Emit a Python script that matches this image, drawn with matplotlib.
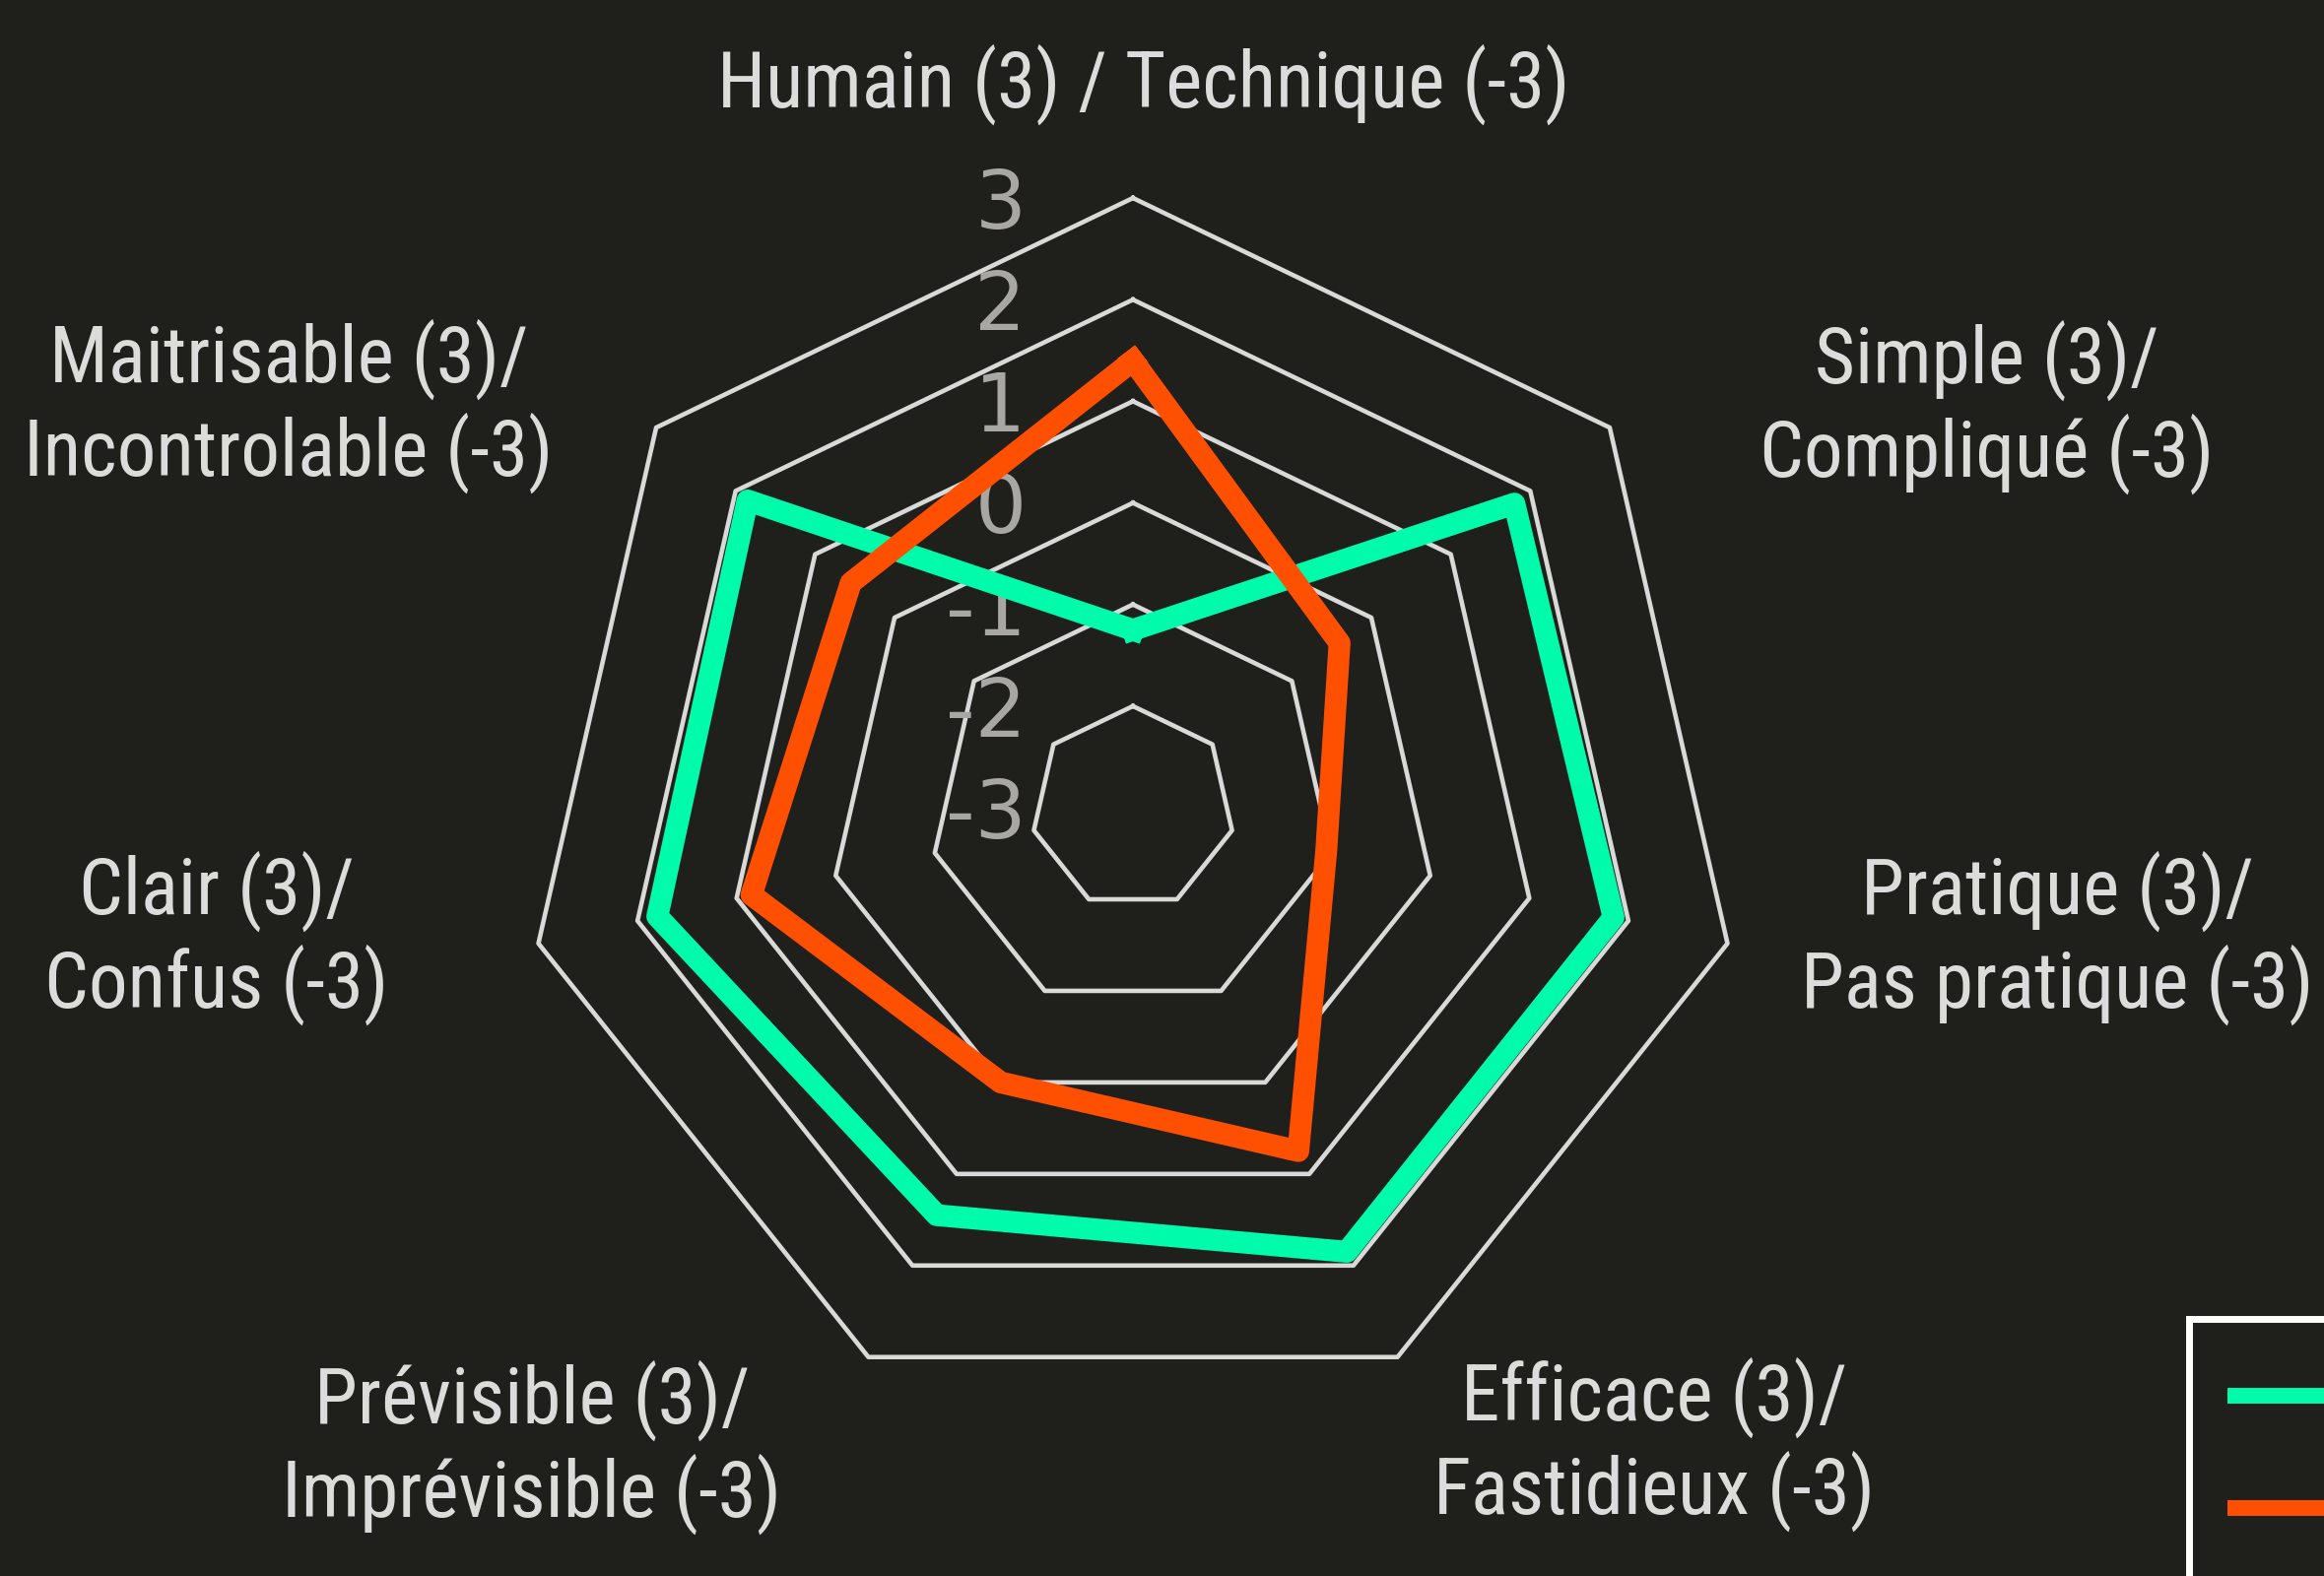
import numpy as np
import matplotlib
matplotlib.use('Agg')
import matplotlib.pyplot as plt

# axes, clockwise from the top
categories = [
    'Humain (3) / Technique (-3)',
    'Simple (3)/\nCompliqué (-3)',
    'Pratique (3)/\nPas pratique (-3)',
    'Efficace (3)/\nFastidieux (-3)',
    'Prévisible (3)/\nImprévisible (-3)',
    'Clair (3)/\nConfus (-3)',
    'Maitrisable (3)/\nIncontrolable (-3)',
]
green_values = [-1.25, 1.8, 1.85, 1.85, 1.45, 1.8, 1.85]
red_values = [1.4, -0.4, -1.05, 0.75, 0.0, 0.85, 0.55]
series_names = ['Série 1', 'Série 2']
r_ticks = [3, 2, 1, 0, -1, -2, -3]
grid_levels = [-2, -1, 0, 1, 2, 3]

# where the category labels sit (figure pixels, centre of the text)
label_pos = [(1161, 86), (2017, 413), (2088, 952), (1679, 1466),
             (540, 1469), (220, 952), (293, 412)]

bg = '#1f1f1b'
green = '#00fbab'
red = '#ff4f00'
grid_col = '#d9d9d9'
text_col = '#dcdcdc'
label_font = ['Roboto Condensed', 'Liberation Sans Narrow', 'Roboto', 'DejaVu Sans']

W, H = 2359, 1600
fig = plt.figure(figsize=(W / 100, H / 100), dpi=100, facecolor=bg)
ax = fig.add_axes([0.2251, 0.1006, 0.5248, 0.77375], projection='polar')
ax.set_facecolor('none')
ax.set_theta_zero_location('N')
ax.set_theta_direction(-1)
ax.set_ylim(-3, 3)
ax.grid(False)
ax.spines['polar'].set_visible(False)
ax.set_xticks([])
ax.set_yticks([])

n = len(categories)
angles = np.linspace(0, 2 * np.pi, n, endpoint=False)
closed = np.append(angles, angles[0])

# heptagon grid
for lvl in grid_levels:
    ax.plot(closed, [lvl] * (n + 1), color=grid_col, lw=3.3, zorder=1, clip_on=False)

# radial tick labels
for v in r_ticks:
    ax.annotate(str(v), xy=(0, v), xytext=(-78, -6), textcoords='offset points',
                ha='right', va='center', fontsize=59, color='#a9a7a4',
                family='DejaVu Sans', zorder=2)

ax.plot(closed, green_values + green_values[:1], color=green, lw=16,
        label=series_names[0], zorder=3, clip_on=False)
ax.plot(closed, red_values + red_values[:1], color=red, lw=16,
        label=series_names[1], zorder=4, clip_on=False)

for lbl, (px, py) in zip(categories, label_pos):
    fig.text(px / W, 1 - py / H, lbl, ha='center', va='center', multialignment='center',
             fontsize=57, color=text_col, family=label_font, linespacing=1.2)

leg = ax.legend(loc='upper left', bbox_to_anchor=(2222 / W, 1 - 1339 / H),
                bbox_transform=fig.transFigure, frameon=True, borderpad=0.6,
                facecolor=bg, edgecolor='white', framealpha=1, fancybox=False,
                borderaxespad=0, labelcolor=text_col, prop={'family': label_font, 'size': 56})
leg.get_frame().set_linewidth(5)
for h in leg.get_lines():
    h.set_linewidth(11.5)

fig.savefig('out.png', dpi=100, facecolor=bg)
